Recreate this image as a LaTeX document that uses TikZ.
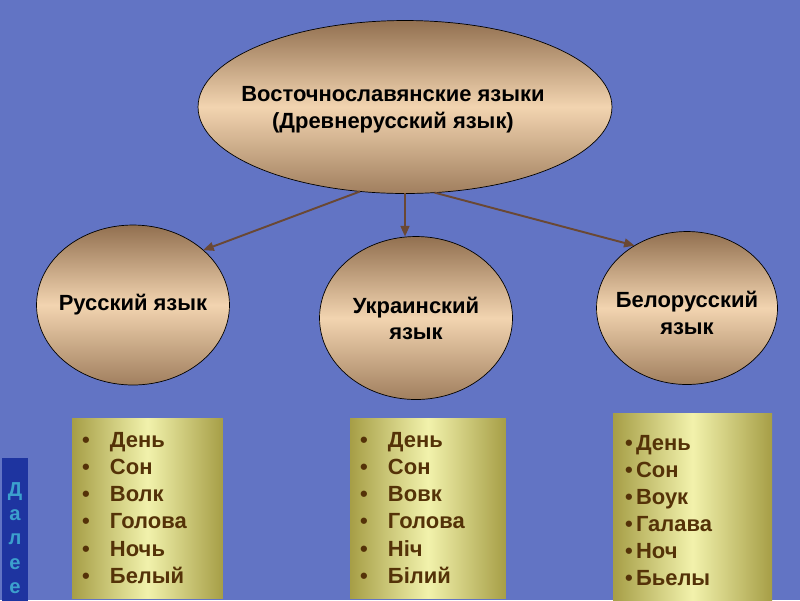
\documentclass[tikz,border=0pt]{standalone}
\usepackage{fontspec}
\setmainfont{Liberation Sans}
\usepackage{xcolor}
\usetikzlibrary{positioning, arrows.meta, shapes.geometric}

\definecolor{slide}{RGB}{98,116,196}
\definecolor{tanDark}{RGB}{146,112,80}
\definecolor{tanLight}{RGB}{242,212,176}
\definecolor{boxOlive}{RGB}{166,158,70}
\definecolor{boxLight}{RGB}{242,242,172}
\definecolor{wordBrown}{RGB}{84,50,8}
\definecolor{linkBrown}{RGB}{106,72,52}
\definecolor{barBlue}{RGB}{30,52,160}
\definecolor{barCyan}{RGB}{60,160,205}

\begin{document}
\begin{tikzpicture}[
            x=0.02cm, y=-0.02cm, % 1 unit = 1 px
            oval/.style={ellipse, draw=black, thin, inner sep=0pt, outer sep=0pt, top color=tanDark, bottom color=tanDark!85!tanLight, middle color=tanLight},
            ovaltext/.style={font=\bfseries\fontsize{12.5}{15.5}\selectfont, align=center, text=black},
            wordbox/.style={rectangle, inner sep=0pt, inner xsep=0.2cm, minimum height=3.6cm, left color=boxOlive, right color=boxOlive, middle color=boxLight, align=left, font=\bfseries\fontsize{12.5}{15.4}\selectfont, text=wordBrown},
            link/.style={-{Triangle[length=6pt, width=5pt]}, line width=1.1pt, draw=linkBrown},
            nextbar/.style={rectangle, fill=barBlue, inner sep=0pt, minimum width=0.52cm, minimum height=3.2cm, align=center, font=\bfseries\fontsize{11.5}{13.9}\selectfont, text=barCyan}
        ]
            \useasboundingbox (0,0) rectangle (800,600);
            \clip (0,0) rectangle (800,600);
            \fill[slide] (0,0) rectangle (800,600);

            % ovals
            \node[oval, minimum width=8.28cm, minimum height=3.46cm, label={[ovaltext, xshift=-0.24cm, yshift=-0.06cm]center:{Восточнославянские языки\\(Древнерусский язык)}}] (root) at (405,107) {};
            \node[oval, minimum width=3.86cm, minimum height=3.2cm, label={[ovaltext]center:{Русский язык}}] (rus) at (133,305) {};
            \node[oval, minimum width=3.86cm, minimum height=3.26cm, label={[ovaltext, font=\bfseries\fontsize{12.5}{14.8}\selectfont]center:{Украинский\\язык}}] (ukr) at (416,318) {};
            \node[oval, minimum width=3.62cm, minimum height=3.06cm, label={[ovaltext, font=\bfseries\fontsize{12.5}{15.3}\selectfont, yshift=-3pt]center:{Белорусский\\язык}}] (bel) at (687,308) {};

            \draw[link] (root.242) -- (rus.38);
            \draw[link] (root.south) -- (root.south |- ukr.north);
            \draw[link] (root.289) -- (bel.130);

            % word lists
            \node[wordbox, minimum width=3.02cm, text width=2.62cm] (rusbox) at (147.5,508) {\makebox[0.56cm][l]{\textbullet}День\\\makebox[0.56cm][l]{\textbullet}Сон\\\makebox[0.56cm][l]{\textbullet}Волк\\\makebox[0.56cm][l]{\textbullet}Голова\\\makebox[0.56cm][l]{\textbullet}Ночь\\\makebox[0.56cm][l]{\textbullet}Белый};
            \node[wordbox, minimum width=3.12cm, text width=2.72cm] (ukrbox) at (428,508) {\makebox[0.56cm][l]{\textbullet}День\\\makebox[0.56cm][l]{\textbullet}Сон\\\makebox[0.56cm][l]{\textbullet}Вовк\\\makebox[0.56cm][l]{\textbullet}Голова\\\makebox[0.56cm][l]{\textbullet}Ніч\\\makebox[0.56cm][l]{\textbullet}Білий};
            \node[wordbox, inner xsep=0.24cm, minimum width=3.18cm, minimum height=3.9cm, text width=2.7cm] (belbox) at (692.5,510.5) {\makebox[0.22cm][l]{\textbullet}День\\\makebox[0.22cm][l]{\textbullet}Сон\\\makebox[0.22cm][l]{\textbullet}Воук\\\makebox[0.22cm][l]{\textbullet}Галава\\\makebox[0.22cm][l]{\textbullet}Ноч\\\makebox[0.22cm][l]{\textbullet}Бьелы};

            \node[nextbar] (next) at (15,538) {Д\\а\\л\\е\\е};
        \end{tikzpicture}
\end{document}
